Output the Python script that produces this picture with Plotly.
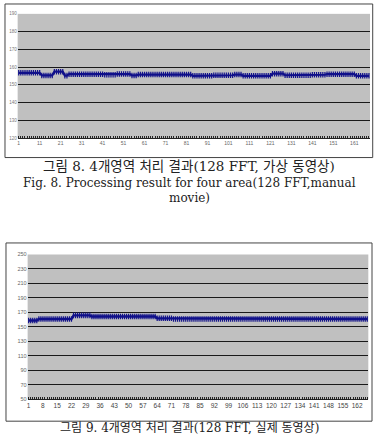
import plotly.graph_objects as go

# Top chart (Fig. 8): frame index vs value
top_values = [
    156.8, 156.8, 156.8, 156.8, 156.8, 156.8, 156.8, 156.8, 156.8, 156.8, 156.8,
    155.3, 155.3, 155.3, 155.3, 155.3, 155.3,
    157.4, 157.4, 157.4, 157.4, 157.4,
    155.2, 155.2,
    156.0, 156.0, 156.0, 156.0, 156.0, 156.0, 156.0, 156.0, 156.0, 156.0,
    156.0, 156.0, 156.0, 156.0, 156.0, 156.0, 156.0,
    155.7, 155.7, 155.7, 155.7, 155.7, 155.7,
    156.1, 156.1, 156.1, 156.1, 156.1, 156.1, 156.1,
    155.3, 155.3, 155.3,
    155.8, 155.8, 155.8, 155.8, 155.8, 155.8, 155.8, 155.8, 155.8, 155.8,
    155.8, 155.8, 155.8, 155.8, 155.8, 155.8, 155.8, 155.8, 155.8, 155.8,
    155.8, 155.8, 155.8, 155.8, 155.8, 155.8,
    155.1, 155.1, 155.1, 155.1, 155.1, 155.1, 155.1, 155.1, 155.1, 155.1,
    155.4, 155.4, 155.4, 155.4, 155.4, 155.4, 155.4, 155.4, 155.4, 155.4,
    155.8, 155.8, 155.8, 155.8,
    155.1, 155.1, 155.1, 155.1, 155.1, 155.1, 155.1, 155.1, 155.1, 155.1,
    155.1, 155.1, 155.1, 155.1,
    156.3, 156.3, 156.3, 156.3, 156.3, 156.3,
    155.4, 155.4, 155.4, 155.4, 155.4, 155.4, 155.4, 155.4, 155.4, 155.4,
    155.4, 155.4, 155.4,
    155.7, 155.7, 155.7, 155.7, 155.7, 155.7, 155.7,
    156.0, 156.0, 156.0, 156.0, 156.0, 156.0, 156.0, 156.0, 156.0, 156.0,
    156.0, 156.0, 156.0, 156.0,
    155.1, 155.1, 155.1, 155.1, 155.1, 155.1, 155.1,
]
top_x = list(range(1, len(top_values) + 1))
top_xticks = [1, 11, 21, 31, 41, 51, 61, 71, 81, 91, 101, 111, 121, 131, 141, 151, 161]
top_yticks = [120, 130, 140, 150, 160, 170, 180, 190]

# Bottom chart (Fig. 9)
bottom_values = [
    159, 159, 159, 159, 159,
    161, 161, 161, 161, 161, 161, 161, 161, 161, 161, 161, 161, 161, 161, 161, 161, 161,
    166, 166, 166, 166, 166, 166, 166, 166, 166,
    164.5, 164.5, 164.5, 164.5, 164.5, 164.5, 164.5, 164.5, 164.5, 164.5,
    164.5, 164.5, 164.5, 164.5, 164.5, 164.5, 164.5, 164.5, 164.5, 164.5,
    164.5, 164.5, 164.5, 164.5, 164.5, 164.5, 164.5, 164.5, 164.5, 164.5,
    164.5, 164.5,
    162, 162, 162, 162, 162, 162, 162, 162,
    161, 161, 161, 161, 161, 161, 161, 161, 161, 161, 161, 161,
    161, 161, 161, 161, 161, 161, 161, 161, 161, 161, 161, 161,
    161, 161, 161, 161, 161, 161, 161, 161, 161, 161, 161, 161,
    161, 161, 161, 161, 161, 161, 161, 161, 161, 161, 161, 161,
    161, 161, 161, 161, 161, 161, 161, 161, 161, 161, 161, 161,
    161, 161, 161, 161, 161, 161, 161, 161, 161, 161, 161, 161,
    161, 161, 161, 161, 161, 161, 161, 161, 161, 161, 161, 161,
    161, 161, 161, 161, 161, 161, 161, 161, 161, 161, 161, 161,
]
bottom_x = list(range(1, len(bottom_values) + 1))
bottom_xticks = [1, 8, 15, 22, 29, 36, 43, 50, 57, 64, 71, 78, 85, 92, 99, 106,
                 113, 120, 127, 134, 141, 148, 155, 162]
bottom_yticks = [50, 70, 90, 110, 130, 150, 170, 190, 210, 230, 250]

caption_top_ko = "그림 8. 4개영역 처리 결과(128 FFT, 가상 동영상)"
caption_top_en1 = "Fig. 8. Processing result for four area(128 FFT,manual"
caption_top_en2 = "movie)"
caption_bottom_ko = "그림 9. 4개영역 처리 결과(128 FFT, 실제 동영상)"

W, H = 377, 437
def px(x):
    return x / W
def py(y):
    return 1 - y / H

NAVY = "#10108a"
serif = "DejaVu Serif, Noto Sans CJK KR, serif"

fig = go.Figure()
fig.add_trace(go.Scatter(
    x=top_x, y=top_values, mode="lines+markers", xaxis="x", yaxis="y",
    line=dict(color=NAVY, width=2.2),
    marker=dict(symbol="line-ns", size=4, line=dict(color=NAVY, width=1.2)),
    showlegend=False, hoverinfo="skip"))
fig.add_trace(go.Scatter(
    x=bottom_x, y=bottom_values, mode="lines+markers", xaxis="x2", yaxis="y2",
    line=dict(color=NAVY, width=2.4),
    marker=dict(symbol="line-ns", size=4, line=dict(color=NAVY, width=1.2)),
    showlegend=False, hoverinfo="skip"))

common_y = dict(showgrid=True, gridcolor="#1a1a1a", gridwidth=1, zeroline=False,
                showline=False, ticks="")
fig.update_layout(
    width=W, height=H, margin=dict(l=0, r=0, t=0, b=0),
    paper_bgcolor="white", plot_bgcolor="#c0c0c0",
    xaxis=dict(domain=[px(16.7), px(370)], range=[0.5, len(top_values) + 0.5],
               tickvals=top_xticks, showgrid=False, zeroline=False,
               showline=True, linecolor="#222", linewidth=1, tickangle=0,
               ticks="", minor=dict(ticks="inside", tickvals=top_x, ticklen=2,
                                    tickcolor="#222", tickwidth=1),
               tickfont=dict(size=5, color="#666", family="Arial"), anchor="y"),
    yaxis=dict(domain=[py(137), py(11)], range=[120, 190], tickvals=top_yticks,
               tickfont=dict(size=4.5, color="#777", family="Arial"), anchor="x",
               **common_y),
    xaxis2=dict(domain=[px(26.7), px(368.3)], range=[0.5, len(bottom_values) + 0.5],
                tickvals=bottom_xticks, showgrid=False, zeroline=False,
                showline=True, linecolor="#222", linewidth=1, tickangle=0,
                ticks="", minor=dict(ticks="inside", tickvals=bottom_x, ticklen=2,
                                     tickcolor="#222", tickwidth=1),
                tickfont=dict(size=6.5, color="#444", family="Arial"), anchor="y2"),
    yaxis2=dict(domain=[py(402), py(255)], range=[50, 250], tickvals=bottom_yticks,
                tickfont=dict(size=5.5, color="#666", family="Arial"), anchor="x2",
                **common_y),
)

# Outer frames
fig.add_shape(type="rect", xref="paper", yref="paper",
              x0=px(4), x1=px(372.7), y0=py(156.7), y1=py(1),
              line=dict(color="#444", width=1), fillcolor="rgba(0,0,0,0)", layer="below")
fig.add_shape(type="rect", xref="paper", yref="paper",
              x0=px(5), x1=px(372), y0=py(424), y1=py(243.3),
              line=dict(color="#444", width=1), fillcolor="rgba(0,0,0,0)", layer="below")

# Captions
for text, y, size in [(caption_top_ko, 165, 13.5), (caption_top_en1, 183, 12),
                      (caption_top_en2, 198, 12), (caption_bottom_ko, 430.5, 12)]:
    fig.add_annotation(text=text, xref="paper", yref="paper", x=0.5, y=py(y),
                       xanchor="center", yanchor="middle", showarrow=False,
                       font=dict(family=serif, size=size, color="#222"))

fig.write_html("out.html")
